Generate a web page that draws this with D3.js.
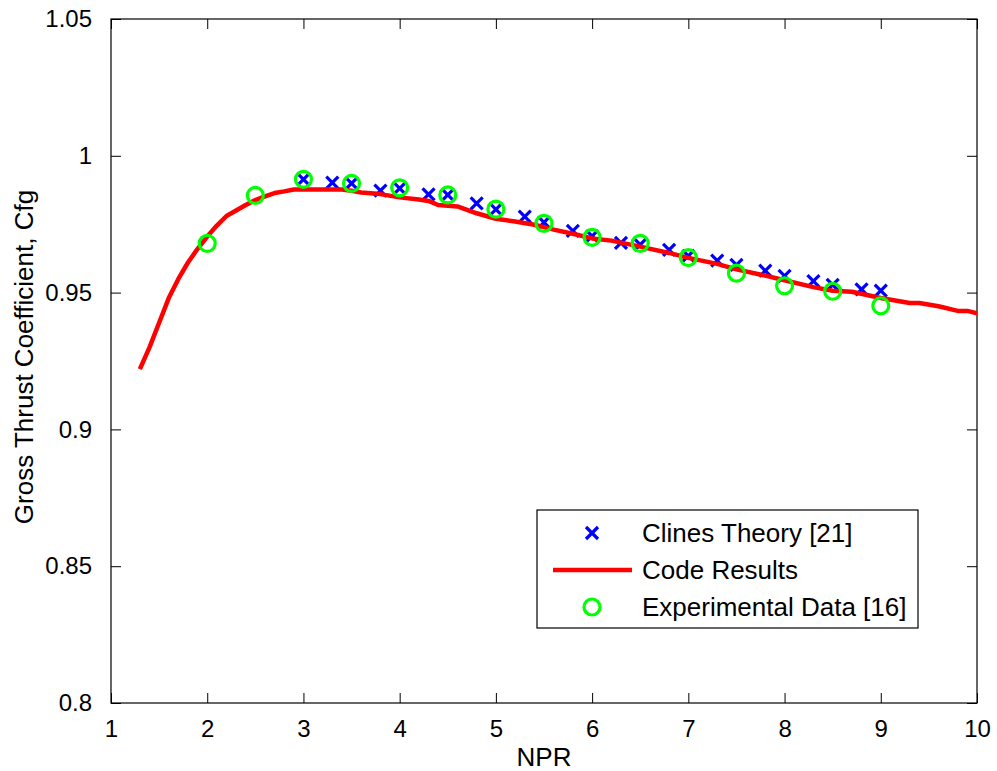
<!DOCTYPE html>
<html>
<head>
<meta charset="utf-8">
<script src="https://cdn.jsdelivr.net/npm/d3@7"></script>
<style>
  body { margin: 0; background: #fff; }
  text { font-family: Arial, "Liberation Sans", Helvetica, sans-serif; fill: #000; }
</style>
</head>
<body>
<script>
// chart size
const width = 997;
const height = 771;

// ! Data
// Clines Theory [21]
const clinesNpr = [3, 3.3, 3.5, 3.8, 4, 4.3, 4.5, 4.8, 5, 5.3, 5.5, 5.8, 6, 6.3, 6.5, 6.8, 7, 7.3, 7.5, 7.8, 8, 8.3, 8.5, 8.8, 9];
const clinesCfg = [0.9914, 0.9902, 0.9899, 0.9873, 0.9881, 0.9859, 0.9857, 0.9826, 0.9804, 0.9778, 0.9757, 0.9726, 0.9706, 0.9682, 0.9675, 0.9656, 0.9634, 0.9617, 0.9601, 0.958, 0.9561, 0.9542, 0.9528, 0.9512, 0.9507];

// Code Results
const codeNpr = [1.3, 1.4, 1.5, 1.6, 1.7, 1.8, 1.9, 2.0, 2.1, 2.2, 2.3, 2.4, 2.5, 2.6, 2.7, 2.8, 2.9, 3.0, 3.2, 3.4, 3.5, 3.6, 3.8, 4.0, 4.2, 4.3, 4.4, 4.6, 4.8, 5.0, 5.2, 5.4, 5.6, 5.8, 6.0, 6.2, 6.5, 6.8, 7.0, 7.3, 7.5, 7.8, 8.0, 8.3, 8.5, 8.7, 9.0, 9.3, 9.4, 9.6, 9.8, 9.9, 10.0];
const codeCfg = [0.922, 0.930, 0.939, 0.948, 0.955, 0.961, 0.966, 0.9705, 0.9745, 0.978, 0.980, 0.982, 0.9838, 0.9852, 0.9864, 0.987, 0.9877, 0.9877, 0.9877, 0.9877, 0.9872, 0.9866, 0.986, 0.9848, 0.984, 0.9835, 0.982, 0.9815, 0.979, 0.977, 0.976, 0.9748, 0.973, 0.9715, 0.9698, 0.969, 0.9668, 0.9645, 0.9627, 0.9605, 0.9585, 0.9562, 0.9545, 0.952, 0.9507, 0.9503, 0.948, 0.9462, 0.9462, 0.945, 0.9433, 0.9433, 0.9424];

// Experimental Data [16]
const expNpr = [2, 2.5, 3, 3.5, 4, 4.5, 5, 5.5, 6, 6.5, 7, 7.5, 8, 8.5, 9];
const expCfg = [0.968, 0.9855, 0.9914, 0.9899, 0.9883, 0.9857, 0.9805, 0.9753, 0.9702, 0.968, 0.9628, 0.9571, 0.9525, 0.9505, 0.9452];

// ticks
const xTicks = [1, 2, 3, 4, 5, 6, 7, 8, 9, 10];
const yTicks = [0.8, 0.85, 0.9, 0.95, 1, 1.05];

const legendLabels = ["Clines Theory [21]", "Code Results", "Experimental Data [16]"];

// ! Margin convention
const margin = { top: 19, right: 20, bottom: 68, left: 111 };
const innerWidth = width - margin.left - margin.right;
const innerHeight = height - margin.top - margin.bottom;

const svg = d3
  .select("body")
  .append("svg")
  .attr("width", width)
  .attr("height", height);

const g = svg
  .append("g")
  .attr("transform", `translate(${margin.left}, ${margin.top})`);

// ! Scales
const xScale = d3.scaleLinear().domain([1, 10]).range([0, innerWidth]);
const yScale = d3.scaleLinear().domain([0.8, 1.05]).range([innerHeight, 0]);

const fmt = (d) => String(+d.toFixed(2));

// ! Axes, ticks inward on all four sides
const tickLen = 10;
g.append("g")
  .attr("transform", `translate(0, ${innerHeight})`)
  .call(d3.axisBottom(xScale).tickValues(xTicks).tickFormat(fmt).tickSizeInner(-tickLen).tickSizeOuter(0).tickPadding(tickLen + 7))
  .call((a) => a.select(".domain").remove())
  .call((a) => a.selectAll("text").style("font-size", "24px").attr("font-family", null));

g.append("g")
  .call(d3.axisLeft(yScale).tickValues(yTicks).tickFormat(fmt).tickSizeInner(-tickLen).tickSizeOuter(0).tickPadding(tickLen + 9))
  .call((a) => a.select(".domain").remove())
  .call((a) => a.selectAll("text").style("font-size", "24px").attr("font-family", null));

g.append("g")
  .call(d3.axisTop(xScale).tickValues(xTicks).tickFormat("").tickSizeInner(-tickLen).tickSizeOuter(0))
  .call((a) => a.select(".domain").remove());

g.append("g")
  .attr("transform", `translate(${innerWidth}, 0)`)
  .call(d3.axisRight(yScale).tickValues(yTicks).tickFormat("").tickSizeInner(-tickLen).tickSizeOuter(0))
  .call((a) => a.select(".domain").remove());

g.selectAll(".tick line").attr("stroke", "#000");

// box
g.append("rect")
  .attr("width", innerWidth)
  .attr("height", innerHeight)
  .attr("fill", "none")
  .attr("stroke", "#000")
  .attr("stroke-width", 1.2);

// clip
svg.append("defs")
  .append("clipPath")
  .attr("id", "plotClip")
  .append("rect")
  .attr("width", innerWidth)
  .attr("height", innerHeight);

const plot = g.append("g").attr("clip-path", "url(#plotClip)");

// ! Clines theory x markers
const xSize = 6;
const clinesData = clinesNpr.map((d, i) => [d, clinesCfg[i]]);
const xMark = (sel) =>
  sel
    .attr("d", `M${-xSize},${-xSize}L${xSize},${xSize}M${-xSize},${xSize}L${xSize},${-xSize}`)
    .attr("fill", "none")
    .attr("stroke", "#0000ff")
    .attr("stroke-width", 3.2);

plot
  .selectAll(".clines")
  .data(clinesData)
  .enter()
  .append("path")
  .attr("class", "clines")
  .attr("transform", (d) => `translate(${xScale(d[0])}, ${yScale(d[1])})`)
  .call(xMark);

// ! Code results line
const codeData = codeNpr.map((d, i) => [d, codeCfg[i]]);
plot
  .append("path")
  .datum(codeData)
  .attr("fill", "none")
  .attr("stroke", "#ff0000")
  .attr("stroke-width", 4.5)
  .attr("stroke-linejoin", "round")
  .attr("d", d3.line().x((d) => xScale(d[0])).y((d) => yScale(d[1])));

// ! Experimental circles
const expData = expNpr.map((d, i) => [d, expCfg[i]]);
plot
  .selectAll(".exp")
  .data(expData)
  .enter()
  .append("circle")
  .attr("class", "exp")
  .attr("cx", (d) => xScale(d[0]))
  .attr("cy", (d) => yScale(d[1]))
  .attr("r", 8)
  .attr("fill", "none")
  .attr("stroke", "#00ff00")
  .attr("stroke-width", 3.2);

// ! Axis labels
svg.append("text")
  .attr("x", margin.left + innerWidth / 2)
  .attr("y", 766)
  .attr("text-anchor", "middle")
  .style("font-size", "26px")
  .text("NPR");

svg.append("text")
  .attr("transform", `translate(33, ${margin.top + innerHeight / 2 - 4}) rotate(-90)`)
  .attr("text-anchor", "middle")
  .style("font-size", "26px")
  .text("Gross Thrust Coefficient, Cfg");

// ! Legend
const legend = svg.append("g").attr("transform", "translate(537, 510)");
legend
  .append("rect")
  .attr("width", 381)
  .attr("height", 118)
  .attr("fill", "#fff")
  .attr("stroke", "#000")
  .attr("stroke-width", 1.2);

const rowY = [23, 60, 97];
legend
  .selectAll(".legendText")
  .data(legendLabels)
  .enter()
  .append("text")
  .attr("x", 105)
  .attr("y", (d, i) => rowY[i])
  .attr("dy", "0.35em")
  .style("font-size", "26px")
  .text((d) => d);

legend
  .append("path")
  .attr("transform", `translate(55, ${rowY[0]})`)
  .call(xMark);

legend
  .append("line")
  .attr("x1", 16)
  .attr("x2", 95)
  .attr("y1", rowY[1])
  .attr("y2", rowY[1])
  .attr("stroke", "#ff0000")
  .attr("stroke-width", 4.5);

legend
  .append("circle")
  .attr("cx", 55)
  .attr("cy", rowY[2])
  .attr("r", 8)
  .attr("fill", "none")
  .attr("stroke", "#00ff00")
  .attr("stroke-width", 3.2);
</script>
</body>
</html>
